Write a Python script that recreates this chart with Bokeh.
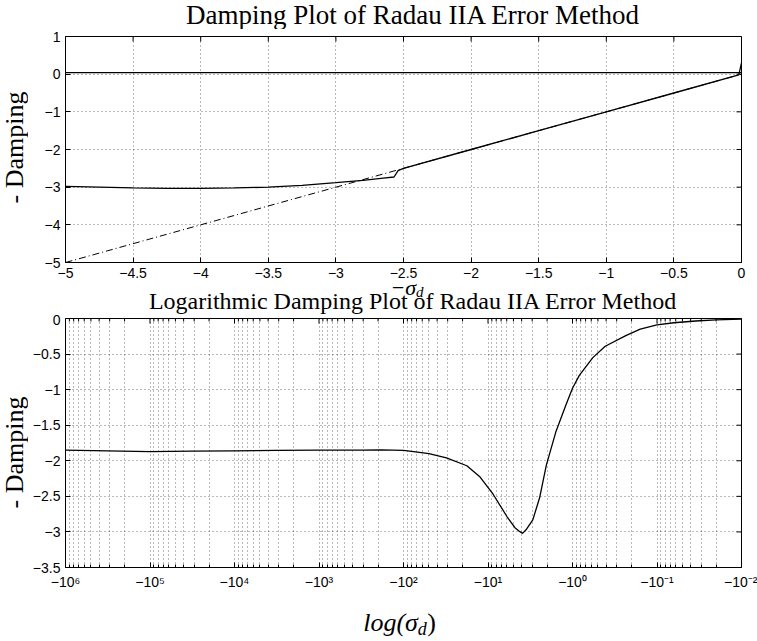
import math
from bokeh.plotting import figure
from bokeh.layouts import column, row
from bokeh.models import Range1d, FixedTicker, Label
from bokeh.embed import file_html
from bokeh.resources import INLINE

# ---------------- top panel data ----------------
neg_sigma = [-5.0, -4.75, -4.5, -4.25, -4.0, -3.75, -3.5, -3.25, -3.0, -2.8, -2.65, -2.57,
             -2.54, -2.5, -2.0, -1.5, -1.0, -0.5, -0.02, 0.0]
damping = [-2.98, -3.0, -3.02, -3.03, -3.03, -3.02, -3.0, -2.95, -2.88, -2.82, -2.76, -2.73,
           -2.56, -2.5, -2.0, -1.5, -1.0, -0.5, -0.02, 0.3]
ref_x = [-5.0, 0.0]
ref_y = [-5.0, 0.0]
zero_x = [-5.0, 0.0]
zero_y = [0.04, 0.04]
top_xticks = [-5, -4.5, -4, -3.5, -3, -2.5, -2, -1.5, -1, -0.5, 0]
top_xlabels = ["\u22125", "\u22124.5", "\u22124", "\u22123.5", "\u22123", "\u22122.5",
               "\u22122", "\u22121.5", "\u22121", "\u22120.5", "0"]
top_yticks = [1, 0, -1, -2, -3, -4, -5]
top_ylabels = ["1", "0", "\u22121", "\u22122", "\u22123", "\u22124", "\u22125"]

# ---------------- bottom panel data ----------------
sigma = [1e6, 3.2e5, 1e5, 3.2e4, 1e4, 3.2e3, 1e3, 316, 186, 100, 76, 50, 31, 17.8, 12.6,
         8.7, 6.0, 4.8, 4.27, 3.9, 3.55, 2.95, 2.45, 2.04, 1.58, 1.2, 1.0, 0.83, 0.575,
         0.41, 0.234, 0.158, 0.1, 0.063, 0.035, 0.02, 0.01]
log_damping = [-1.85, -1.86, -1.87, -1.865, -1.86, -1.855, -1.85, -1.85, -1.846, -1.855,
               -1.87, -1.9, -1.96, -2.07, -2.22, -2.47, -2.78, -2.94, -2.99, -3.02, -2.97,
               -2.83, -2.52, -2.06, -1.6, -1.22, -0.98, -0.8, -0.55, -0.39, -0.24, -0.15,
               -0.09, -0.06, -0.035, -0.02, -0.01]
bot_xticks = [1e6, 1e5, 1e4, 1e3, 100, 10, 1, 0.1, 0.01]
bot_xlabels = ["\u221210\u2076", "\u221210\u2075", "\u221210\u2074", "\u221210\u00b3",
               "\u221210\u00b2", "\u221210\u00b9", "\u221210\u2070", "\u221210\u207b\u00b9",
               "\u221210\u207b\u00b2"]
bot_minor = [m * d for d in [1e5, 1e4, 1e3, 100, 10, 1, 0.1, 0.01] for m in range(2, 10)]
bot_yticks = [0, -0.5, -1, -1.5, -2, -2.5, -3, -3.5]
bot_ylabels = ["0", "\u22120.5", "\u22121", "\u22121.5", "\u22122", "\u22122.5", "\u22123", "\u22123.5"]

title_top = "Damping Plot of Radau IIA Error Method"
title_bottom = "Logarithmic Damping Plot of Radau IIA Error Method"
ylabel = "- Damping"

SERIF = "Liberation Serif"
SANS = "Liberation Sans"
LEFT_W = 28            # strip holding the rotated y labels
MAIN_W = 757 - LEFT_W


def style_axis(ax, ticks, labels, minor=None, standoff=6):
    ax.ticker = FixedTicker(ticks=ticks, minor_ticks=minor or [])
    ax.major_label_overrides = {t: l for t, l in zip(ticks, labels)}
    ax.major_label_text_font = SANS
    ax.major_label_text_font_size = "14px"
    ax.major_label_text_color = "black"
    ax.major_label_standoff = standoff
    ax.major_tick_in = 5
    ax.major_tick_out = 0
    ax.minor_tick_in = 3 if minor else 0
    ax.minor_tick_out = 0
    ax.major_tick_line_color = "black"
    ax.minor_tick_line_color = "black"
    ax.axis_line_color = "black"


def style_grid(g, ticks, minor=None):
    g.ticker = FixedTicker(ticks=ticks, minor_ticks=minor or [])
    g.grid_line_color = "black"
    g.grid_line_alpha = 0.55
    g.grid_line_dash = "1 3"
    g.grid_line_width = 1
    if minor:
        g.minor_grid_line_color = "black"
        g.minor_grid_line_alpha = 0.55
        g.minor_grid_line_dash = "1 3"


def edge_ticks(p, xs, ys, size, vertical):
    # inward tick marks on the top / right frame edges (outer half is clipped)
    p.scatter(xs, ys, marker="dash", size=size, angle=(math.pi / 2 if vertical else 0),
              line_color="black", line_width=1)


def strip(w, h):
    # text-only canvas; data units equal pixels from its top-left corner
    s = figure(width=w, height=h, output_backend="svg", toolbar_location=None,
               x_range=Range1d(0, w), y_range=Range1d(h, 0),
               x_axis_location=None, y_axis_location=None, min_border=0)
    s.outline_line_color = None
    s.xgrid.visible = False
    s.ygrid.visible = False
    s.grid.grid_line_color = None
    return s


def lab(p, x, y, text, size=26, style="normal", align="center", angle=0):
    # y is the text's vertical middle (about 0.34 em above the baseline), px from strip top
    p.add_layout(Label(x=x, y=y, text=text, text_font=SERIF, text_font_size=f"{size}px",
                       text_font_style=style, text_align=align, text_baseline="middle",
                       angle=angle, text_color="black"))


# ---------------- top title strip ----------------
TOP_H = 29
s_top = strip(MAIN_W, TOP_H)
lab(s_top, 403 - LEFT_W, 14, title_top, size=27)

# ---------------- top figure ----------------
P1_BOTTOM = 283
P1_H = P1_BOTTOM - TOP_H
p1 = figure(width=MAIN_W, height=P1_H, output_backend="svg", toolbar_location=None,
            x_range=Range1d(-5, 0), y_range=Range1d(-5, 1),
            min_border_left=65 - LEFT_W, min_border_right=16, min_border_top=36 - TOP_H,
            min_border_bottom=P1_BOTTOM - 262)
p1.outline_line_color = "black"
style_axis(p1.xaxis[0], top_xticks, top_xlabels, standoff=5)
style_axis(p1.yaxis[0], top_yticks, top_ylabels, standoff=5)
style_grid(p1.xgrid[0], top_xticks)
style_grid(p1.ygrid[0], top_yticks)
edge_ticks(p1, top_xticks, [p1.y_range.end] * len(top_xticks), 10, True)
edge_ticks(p1, [p1.x_range.end] * len(top_yticks), top_yticks, 10, False)

p1.line(zero_x, zero_y, line_color="black", line_width=1.2)
p1.line(ref_x, ref_y, line_color="black", line_width=1, line_dash="7 3 1 3")
p1.line(neg_sigma, damping, line_color="black", line_width=1.3)

# ---------------- middle strip: x label of top panel + bottom title ----------------
MID_TOP = P1_BOTTOM
P2_TOP = 314
MID_H = P2_TOP - MID_TOP
s_mid = strip(MAIN_W, MID_H)
lab(s_mid, 406 - LEFT_W, 294.5 - 7.5 - MID_TOP, "\u2212\u03c3", size=22, style="italic", align="right")
lab(s_mid, 406 - LEFT_W, 297 - 5.1 - MID_TOP, "d", size=15, style="italic", align="left")
lab(s_mid, 403 - LEFT_W, 309 - 8.2 - MID_TOP, title_bottom, size=24)

# ---------------- bottom figure ----------------
P2_H = 592 - P2_TOP
p2 = figure(width=MAIN_W, height=P2_H, output_backend="svg", toolbar_location=None,
            x_axis_type="log", x_range=Range1d(1e6, 1e-2), y_range=Range1d(-3.5, 0),
            min_border_left=65 - LEFT_W, min_border_right=16, min_border_top=318 - P2_TOP,
            min_border_bottom=25)
p2.outline_line_color = "black"
style_axis(p2.xaxis[0], bot_xticks, bot_xlabels, minor=bot_minor, standoff=6)
style_axis(p2.yaxis[0], bot_yticks, bot_ylabels, standoff=5)
style_grid(p2.xgrid[0], bot_xticks, minor=bot_minor)
style_grid(p2.ygrid[0], bot_yticks)
edge_ticks(p2, bot_xticks, [p2.y_range.end] * len(bot_xticks), 10, True)
edge_ticks(p2, bot_minor, [p2.y_range.end] * len(bot_minor), 6, True)
edge_ticks(p2, [p2.x_range.end] * len(bot_yticks), bot_yticks, 10, False)

p2.line(sigma, log_damping, line_color="black", line_width=1.3)

# ---------------- bottom strip: x label of bottom panel ----------------
BOT_TOP = 592
BOT_H = 641 - BOT_TOP
s_bot = strip(MAIN_W, BOT_H)
lab(s_bot, 408 - LEFT_W, 622 - BOT_TOP, "log(\u03c3", style="italic", align="right")
lab(s_bot, 408 - LEFT_W, 628 - BOT_TOP, "d", size=18, style="italic", align="left")
lab(s_bot, 418 - LEFT_W, 622 - BOT_TOP, ")", align="left")

# ---------------- left strip: rotated y labels ----------------
s_left = strip(LEFT_W, 641)
lab(s_left, 14, 147, ylabel, angle=math.pi / 2)
lab(s_left, 14, 452, ylabel, angle=math.pi / 2)

layout = row(s_left, column(s_top, p1, s_mid, p2, s_bot, spacing=0), spacing=0)
open("out.html", "w").write(file_html(layout, INLINE))
